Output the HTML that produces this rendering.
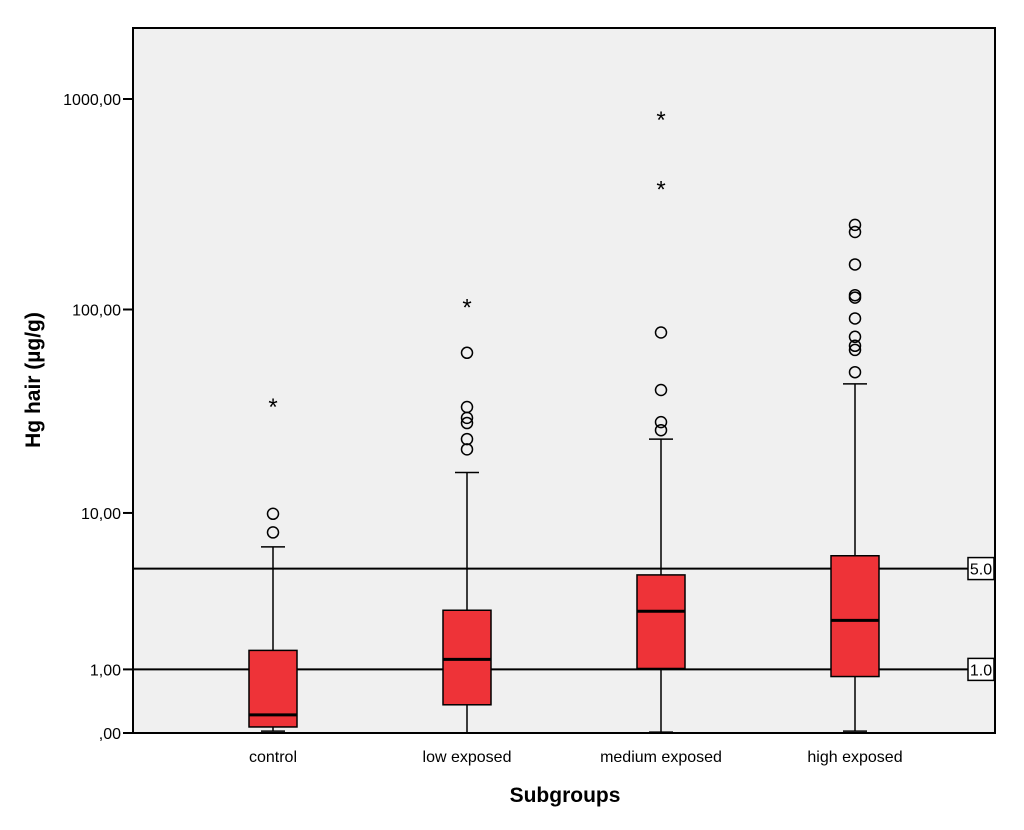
<!DOCTYPE html>
<html><head><meta charset="utf-8"><style>
body{margin:0;background:#fff}
svg{display:block;font-family:"Liberation Sans",Arial,sans-serif}
</style></head><body>
<svg id="c" width="1024" height="830"></svg>
<script>
const categories=["control","low  exposed","medium exposed","high exposed"];
const mins=[0.02,0,0.01,0.02];
const q1s=[0.068,0.36,1.02,0.85];
const medians=[0.218,1.23,2.77,2.41];
const q3s=[1.46,2.81,4.6,5.9];
const maxs=[6.6,16.1,23.6,43.9];
const circleOutliers=[[9.9,7.9],[21,23.6,28.3,30,33.9,62],[26.1,28.6,41,77.6],[50,64,67,74,90.6,114,117,164,234,253]];
const starOutliers=[[35.5],[107],[388,829],[]];
const yTicks=[0,1,10,100,1000];
const yTickLabels=[",00","1,00","10,00","100,00","1000,00"];
const refLines=[5,1];
const refLabels=["5.0","1.0"];

const NS="http://www.w3.org/2000/svg";
const svg=document.getElementById('c');
const L=133,R=995,T=28,B=733;
function y(v){return B-211.3*Math.log10(v+1);}
function x(i){return 273+i*194;}
function el(tag,a,p){const e=document.createElementNS(NS,tag);for(const k in a)e.setAttribute(k,a[k]);(p||svg).appendChild(e);return e;}
const bg=el('rect',{x:L,y:T,width:R-L,height:B-T,fill:'#f0f0f0',stroke:'#000','stroke-width':2});


yTicks.forEach((v,i)=>{
 const t=el('line',{x1:L-10,x2:L,y1:y(v),y2:y(v),stroke:'#000','stroke-width':2});
 
 
 const tx=el('text',{x:L-12,y:y(v)+6,'text-anchor':'end','font-size':16});
 tx.textContent=yTickLabels[i];
 
 
});
refLines.forEach((v,i)=>{
 const l=el('line',{x1:L,x2:R,y1:y(v),y2:y(v),stroke:'#000','stroke-width':2});
 
 
 const r=el('rect',{x:968,y:y(v)-11,width:26,height:22,fill:'#fff',stroke:'#000','stroke-width':1.5});
 
 
 const t=el('text',{x:981,y:y(v)+6,'text-anchor':'middle','font-size':16});
 t.textContent=refLabels[i];
 
 
});
categories.forEach((c,i)=>{
 const cx=x(i),w=48;
 const g=el('g',{});
 
 
 el('line',{x1:cx,x2:cx,y1:y(maxs[i]),y2:y(q3s[i]),stroke:'#000','stroke-width':1.5},g);
 el('line',{x1:cx,x2:cx,y1:y(q1s[i]),y2:y(mins[i]),stroke:'#000','stroke-width':1.5},g);
 el('line',{x1:cx-12,x2:cx+12,y1:y(maxs[i]),y2:y(maxs[i]),stroke:'#000','stroke-width':1.5},g);
 el('line',{x1:cx-12,x2:cx+12,y1:y(mins[i]),y2:y(mins[i]),stroke:'#000','stroke-width':1.5},g);
 el('rect',{x:cx-w/2,y:y(q3s[i]),width:w,height:y(q1s[i])-y(q3s[i]),fill:'#ee3338',stroke:'#000','stroke-width':1.5},g);
 el('line',{x1:cx-w/2,x2:cx+w/2,y1:y(medians[i]),y2:y(medians[i]),stroke:'#000','stroke-width':3},g);
 circleOutliers[i].forEach(v=>{
  const o=el('circle',{cx:cx,cy:y(v),r:5.5,fill:'none',stroke:'#000','stroke-width':1.5});
  
  
 });
 starOutliers[i].forEach(v=>{
  const s=el('text',{x:cx,y:y(v)+12,'text-anchor':'middle','font-size':24});
  s.textContent='*';
  
  
 });
 const t=el('text',{x:cx,y:762,'text-anchor':'middle','font-size':16});
 t.textContent=c;
 
 
});
const xt=el('text',{x:565,y:802,'text-anchor':'middle','font-size':21,'font-weight':'bold'});
xt.textContent='Subgroups';


const yt=el('text',{x:0,y:0,'text-anchor':'middle','font-size':21,'font-weight':'bold',transform:'translate(40,380) rotate(-90)'});
yt.textContent='Hg hair (µg/g)';


</script>
</body></html>
